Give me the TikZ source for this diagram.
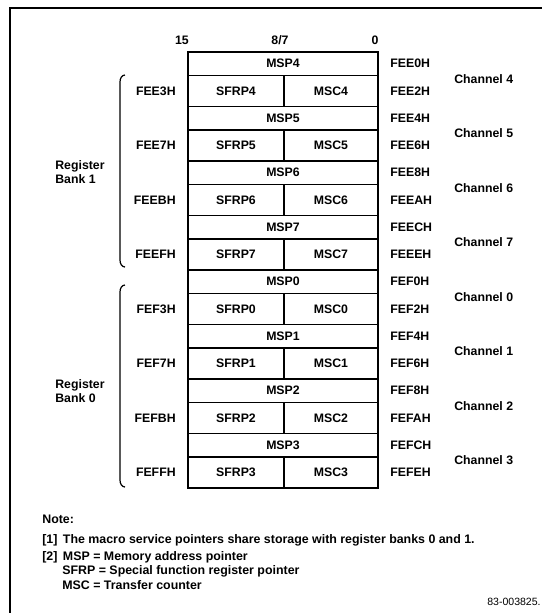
\documentclass[tikz,border=0pt]{standalone}
\usepackage{fontspec}
\setmainfont{Liberation Sans}
\tikzset{
  lbl/.style={font=\bfseries\fontsize{7}{8}\selectfont, inner sep=0pt},
  note/.style={font=\bfseries\fontsize{7.05}{9}\selectfont, inner sep=0pt, anchor=west},
  cell/.style={line width=0.7pt},
  outer/.style={line width=1.2pt},
}
\begin{document}
\begin{tikzpicture}[x=0.02cm, y=0.02cm] % {{{
\pgfmathsetmacro{\chanstep}{54.5}
\useasboundingbox (0,0) rectangle (542,-613);
% Frame and bit header  {{{
\draw[outer] (10,-613) -- (10,-8) -- (542,-8);
\node[lbl] (b15) at (182,-40) {15};
\node[lbl] (b87) at (280,-40) {8/7};
\node[lbl] (b0) at (375,-40) {0};
% }}}
\begin{scope}[shift={(0,-52-0*\chanstep)}] % Channel 4 {{{
\draw[cell] (188,0) rectangle (378,-23.5); \node[lbl] (msp4) at (283,-11.75) {MSP4};
\draw[cell] (188,-23.5) rectangle (284,-54.5); \node[lbl] (sfrp4) at (236,-39) {SFRP4};
\draw[cell] (284,-23.5) rectangle (378,-54.5); \node[lbl] (msc4) at (331,-39) {MSC4};
\node[lbl, anchor=west] (ra4) at (390,-11.75) {FEE0H};
\node[lbl, anchor=west] (rb4) at (390,-39) {FEE2H};
\node[lbl, anchor=east] (la4) at (176,-39) {FEE3H};
\node[lbl, anchor=west] (ch4) at (454,-27) {Channel 4};
\end{scope} % }}}
\begin{scope}[shift={(0,-52-1*\chanstep)}] % Channel 5 {{{
\draw[cell] (188,0) rectangle (378,-23.5); \node[lbl] (msp5) at (283,-11.75) {MSP5};
\draw[cell] (188,-23.5) rectangle (284,-54.5); \node[lbl] (sfrp5) at (236,-39) {SFRP5};
\draw[cell] (284,-23.5) rectangle (378,-54.5); \node[lbl] (msc5) at (331,-39) {MSC5};
\node[lbl, anchor=west] (ra5) at (390,-11.75) {FEE4H};
\node[lbl, anchor=west] (rb5) at (390,-39) {FEE6H};
\node[lbl, anchor=east] (la5) at (176,-39) {FEE7H};
\node[lbl, anchor=west] (ch5) at (454,-27) {Channel 5};
\end{scope} % }}}
\begin{scope}[shift={(0,-52-2*\chanstep)}] % Channel 6 {{{
\draw[cell] (188,0) rectangle (378,-23.5); \node[lbl] (msp6) at (283,-11.75) {MSP6};
\draw[cell] (188,-23.5) rectangle (284,-54.5); \node[lbl] (sfrp6) at (236,-39) {SFRP6};
\draw[cell] (284,-23.5) rectangle (378,-54.5); \node[lbl] (msc6) at (331,-39) {MSC6};
\node[lbl, anchor=west] (ra6) at (390,-11.75) {FEE8H};
\node[lbl, anchor=west] (rb6) at (390,-39) {FEEAH};
\node[lbl, anchor=east] (la6) at (176,-39) {FEEBH};
\node[lbl, anchor=west] (ch6) at (454,-27) {Channel 6};
\end{scope} % }}}
\begin{scope}[shift={(0,-52-3*\chanstep)}] % Channel 7 {{{
\draw[cell] (188,0) rectangle (378,-23.5); \node[lbl] (msp7) at (283,-11.75) {MSP7};
\draw[cell] (188,-23.5) rectangle (284,-54.5); \node[lbl] (sfrp7) at (236,-39) {SFRP7};
\draw[cell] (284,-23.5) rectangle (378,-54.5); \node[lbl] (msc7) at (331,-39) {MSC7};
\node[lbl, anchor=west] (ra7) at (390,-11.75) {FEECH};
\node[lbl, anchor=west] (rb7) at (390,-39) {FEEEH};
\node[lbl, anchor=east] (la7) at (176,-39) {FEEFH};
\node[lbl, anchor=west] (ch7) at (454,-27) {Channel 7};
\end{scope} % }}}
\begin{scope}[shift={(0,-52-4*\chanstep)}] % Channel 0 {{{
\draw[cell] (188,0) rectangle (378,-23.5); \node[lbl] (msp0) at (283,-11.75) {MSP0};
\draw[cell] (188,-23.5) rectangle (284,-54.5); \node[lbl] (sfrp0) at (236,-39) {SFRP0};
\draw[cell] (284,-23.5) rectangle (378,-54.5); \node[lbl] (msc0) at (331,-39) {MSC0};
\node[lbl, anchor=west] (ra0) at (390,-11.75) {FEF0H};
\node[lbl, anchor=west] (rb0) at (390,-39) {FEF2H};
\node[lbl, anchor=east] (la0) at (176,-39) {FEF3H};
\node[lbl, anchor=west] (ch0) at (454,-27) {Channel 0};
\end{scope} % }}}
\begin{scope}[shift={(0,-52-5*\chanstep)}] % Channel 1 {{{
\draw[cell] (188,0) rectangle (378,-23.5); \node[lbl] (msp1) at (283,-11.75) {MSP1};
\draw[cell] (188,-23.5) rectangle (284,-54.5); \node[lbl] (sfrp1) at (236,-39) {SFRP1};
\draw[cell] (284,-23.5) rectangle (378,-54.5); \node[lbl] (msc1) at (331,-39) {MSC1};
\node[lbl, anchor=west] (ra1) at (390,-11.75) {FEF4H};
\node[lbl, anchor=west] (rb1) at (390,-39) {FEF6H};
\node[lbl, anchor=east] (la1) at (176,-39) {FEF7H};
\node[lbl, anchor=west] (ch1) at (454,-27) {Channel 1};
\end{scope} % }}}
\begin{scope}[shift={(0,-52-6*\chanstep)}] % Channel 2 {{{
\draw[cell] (188,0) rectangle (378,-23.5); \node[lbl] (msp2) at (283,-11.75) {MSP2};
\draw[cell] (188,-23.5) rectangle (284,-54.5); \node[lbl] (sfrp2) at (236,-39) {SFRP2};
\draw[cell] (284,-23.5) rectangle (378,-54.5); \node[lbl] (msc2) at (331,-39) {MSC2};
\node[lbl, anchor=west] (ra2) at (390,-11.75) {FEF8H};
\node[lbl, anchor=west] (rb2) at (390,-39) {FEFAH};
\node[lbl, anchor=east] (la2) at (176,-39) {FEFBH};
\node[lbl, anchor=west] (ch2) at (454,-27) {Channel 2};
\end{scope} % }}}
\begin{scope}[shift={(0,-52-7*\chanstep)}] % Channel 3 {{{
\draw[cell] (188,0) rectangle (378,-23.5); \node[lbl] (msp3) at (283,-11.75) {MSP3};
\draw[cell] (188,-23.5) rectangle (284,-54.5); \node[lbl] (sfrp3) at (236,-39) {SFRP3};
\draw[cell] (284,-23.5) rectangle (378,-54.5); \node[lbl] (msc3) at (331,-39) {MSC3};
\node[lbl, anchor=west] (ra3) at (390,-11.75) {FEFCH};
\node[lbl, anchor=west] (rb3) at (390,-39) {FEFEH};
\node[lbl, anchor=east] (la3) at (176,-39) {FEFFH};
\node[lbl, anchor=west] (ch3) at (454,-27) {Channel 3};
\end{scope} % }}}
\draw[outer] (188,-52) rectangle (378,-488);
% Register banks  {{{
\draw[cell] (125,-75) to[out=180,in=90] (120,-82) -- (120,-260) to[out=-90,in=180] (125,-267);
\node[lbl, align=left, anchor=west] (bank1) at (55,-172) {Register\\Bank 1};
\draw[cell] (125,-285) to[out=180,in=90] (120,-292) -- (120,-480) to[out=-90,in=180] (125,-487);
\node[lbl, align=left, anchor=west] (bank0) at (55,-391) {Register\\Bank 0};
% }}}
% Notes  {{{
\node[note] (notehd) at (42,-519) {Note:};
\node[note] (note1) at (42,-540) {[1]\, The macro service pointers share storage with register banks 0 and 1.};
\node[note] (note2) at (42,-557) {[2]\, MSP = Memory address pointer};
\node[note] (note2b) at (62,-571) {SFRP = Special function register pointer};
\node[note] (note2c) at (62,-585) {MSC = Transfer counter};
\node[inner sep=0pt, anchor=east, font=\fontsize{6}{7}\selectfont] (figno) at (541,-602) {83-003825.};
% }}}
\end{tikzpicture} % }}}
\end{document}
